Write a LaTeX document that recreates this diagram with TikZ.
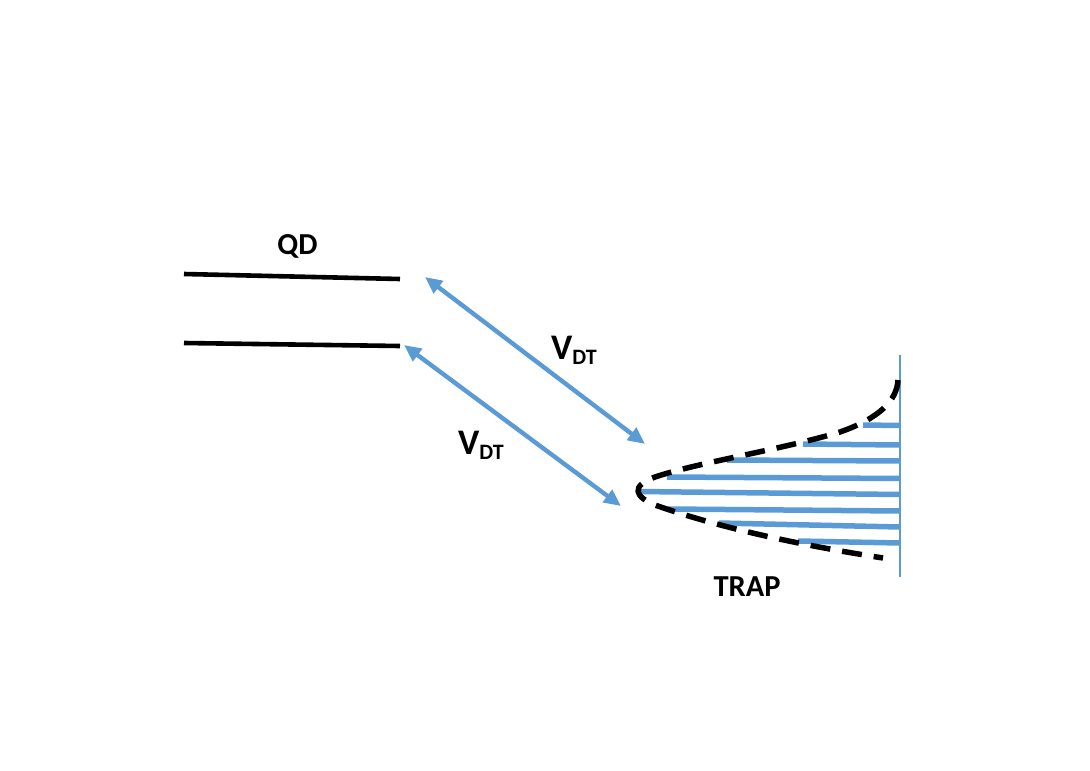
\documentclass[tikz,border=0pt]{standalone}
\usepackage{fontspec}
\setmainfont{Carlito}
\usetikzlibrary{arrows.meta}
\definecolor{tblue}{RGB}{91,155,213}
\begin{document}
\begin{tikzpicture}[x=1pt,y=-1pt,
  level/.style={line width=4.6pt,black},
  trans/.style={line width=4.4pt,tblue,{Triangle[length=17pt,width=15pt]}-{Triangle[length=17pt,width=15pt]}},
  bar/.style={line width=5.5pt,tblue},
  lbl/.style={font=\bfseries\fontsize{30.5}{33}\selectfont,inner sep=0pt},
  vlbl/.style={font=\bfseries\fontsize{36}{40}\selectfont,inner sep=0pt}]
\useasboundingbox (0,0) rectangle (1090,771);
% QD levels
\coordinate (q1a) at (184,274); \coordinate (q1b) at (400,279);
\coordinate (q2a) at (184,343); \coordinate (q2b) at (400,346);
\draw[level] (q1a) -- (q1b);
\draw[level] (q2a) -- (q2b);
\node[lbl] (qd) at (297.5,246) {QD};
% transitions
\coordinate (t1a) at (425,277); \coordinate (t1b) at (645,444);
\coordinate (t2a) at (404,345); \coordinate (t2b) at (621,506);
\draw[trans] (t1a) -- (t1b);
\draw[trans] (t2a) -- (t2b);
\node[vlbl] (v1) at (574,350) {V\raisebox{-0.3ex}{\fontsize{22}{24}\selectfont DT}};
\node[vlbl] (v2) at (481,445) {V\raisebox{-0.3ex}{\fontsize{22}{24}\selectfont DT}};
% trap levels
\draw[bar] (863,425) -- (900,425.5);
\draw[bar] (803,444) -- (900,445);
\draw[bar] (727,460) -- (900,461);
\draw[bar] (667,477) -- (900,478.5);
\draw[bar] (638,491.5) -- (900,494.5);
\draw[bar] (668,509) -- (900,511);
\draw[bar] (719,523) -- (900,527);
\draw[bar] (798,541) -- (900,543);
\coordinate (va) at (900,355); \coordinate (vb) at (900,577);
\draw[tblue,line width=2pt] (va) -- (vb);
% dashed envelope
\draw[black,line width=5.5pt,dash pattern=on 20pt off 12pt]
  (898,380) .. controls (897,400) and (880,418) .. (840,432)
  .. controls (780,450) and (700,462) .. (655,477)
  .. controls (630,486) and (635,497) .. (655,505)
  .. controls (720,528) and (800,545) .. (883,558);
\node[lbl] (trap) at (747,587) {TRAP};
\end{tikzpicture}
\end{document}
